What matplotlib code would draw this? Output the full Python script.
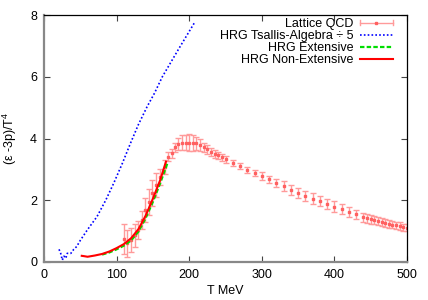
import matplotlib
matplotlib.use("Agg")
import matplotlib.pyplot as plt
from matplotlib.lines import Line2D
from matplotlib.legend_handler import HandlerBase
import numpy as np

plt.rcParams['font.family'] = ['Liberation Sans', 'DejaVu Sans']
plt.rcParams['mathtext.fontset'] = 'custom'
plt.rcParams['mathtext.rm'] = 'Liberation Sans'

# Lattice QCD data
lat_T = [110, 115, 120, 125, 130, 135, 139, 144, 149, 154, 160, 166, 171, 176, 180, 185, 190, 195,
         200, 205, 210, 215, 220, 225, 230, 235, 240, 245, 250, 260, 270, 280, 290, 300, 310, 320,
         330, 340, 350, 360, 370, 380, 390, 400, 410, 420, 430, 440, 445, 450, 455, 460, 465, 470,
         475, 480, 485, 490, 495, 500]
lat_v = [0.74, 0.60, 0.71, 0.87, 1.04, 1.36, 1.68, 1.95, 2.22, 2.49, 2.76, 3.08, 3.41, 3.52, 3.71,
         3.82, 3.86, 3.87, 3.87, 3.86, 3.84, 3.79, 3.71, 3.65, 3.57, 3.50, 3.45, 3.39, 3.32, 3.21,
         3.10, 2.98, 2.89, 2.78, 2.68, 2.57, 2.46, 2.33, 2.24, 2.14, 2.05, 1.97, 1.88, 1.79, 1.71,
         1.63, 1.54, 1.45, 1.41, 1.38, 1.36, 1.33, 1.29, 1.26, 1.24, 1.21, 1.19, 1.16, 1.13, 1.11]
lat_err = [0.48, 0.45, 0.40, 0.37, 0.30, 0.30, 0.40, 0.42, 0.42, 0.39, 0.25, 0.22, 0.15, 0.15, 0.15,
           0.20, 0.24, 0.25, 0.26, 0.25, 0.22, 0.18, 0.15, 0.14, 0.13, 0.12, 0.12, 0.12, 0.10, 0.10,
           0.10, 0.10, 0.10, 0.12, 0.12, 0.13, 0.15, 0.16, 0.17, 0.17, 0.17, 0.17, 0.17, 0.17, 0.16,
           0.16, 0.16, 0.15, 0.15, 0.14, 0.14, 0.14, 0.13, 0.13, 0.13, 0.12, 0.12, 0.12, 0.11, 0.11]

# HRG Tsallis-Algebra / 5
ts_T = [20.7, 23, 25.2, 27.5, 30, 32, 37, 41, 45, 50, 60, 73, 85, 96, 108, 119, 130, 142, 152,
        163, 175, 186, 197, 208]
ts_v = [0.41, 0.28, 0.06, 0.19, 0.12, 0.28, 0.28, 0.41, 0.50, 0.70, 1.05, 1.47, 2.00, 2.55, 3.20,
        3.84, 4.45, 5.03, 5.46, 6.00, 6.48, 6.92, 7.35, 7.78]

# HRG Extensive
ext_T = [80, 90, 100, 110, 120, 130, 140, 150, 160, 170]
ext_v = [0.24, 0.31, 0.41, 0.53, 0.70, 0.98, 1.42, 1.95, 2.55, 3.20]

# HRG Non-Extensive
nex_T = [52, 55, 60, 65, 70, 80, 90, 100, 110, 120, 130, 140, 150, 160, 168]
nex_v = [0.20, 0.19, 0.17, 0.19, 0.21, 0.26, 0.34, 0.45, 0.58, 0.77, 1.06, 1.50, 2.05, 2.65, 3.25]

LAT_EC = '#ff9a9a'
LAT_MC = '#ff6060'


class HorizErrHandler(HandlerBase):
    def create_artists(self, legend, orig_handle, xdescent, ydescent, width, height, fontsize, trans):
        y = height / 2 - ydescent
        x0, x1 = -xdescent, width - xdescent
        cap = height * 0.3
        arts = [Line2D([x0, x1], [y, y], color=LAT_EC, lw=1.0),
                Line2D([x0, x0], [y - cap, y + cap], color=LAT_EC, lw=1.0),
                Line2D([x1, x1], [y - cap, y + cap], color=LAT_EC, lw=1.0),
                Line2D([(x0 + x1) / 2], [y], marker='s', ms=1.8, color=LAT_MC, ls='none')]
        for a in arts:
            a.set_transform(trans)
        return arts


fig = plt.figure(figsize=(4.28, 3.0), dpi=100)
ax = fig.add_axes([44/428, 1-262/300, (407-44)/428, (262-15)/300])

eb = ax.errorbar(lat_T, lat_v, yerr=lat_err, fmt='s', ms=1.8, color=LAT_MC, ecolor=LAT_EC,
                 elinewidth=1.0, capsize=2.2, capthick=1.0, zorder=2)
l1, = ax.plot(ts_T, ts_v, color='#0000ff', lw=1.2, ls=(0, (1, 1.3)), zorder=3)
l2, = ax.plot(ext_T, ext_v, color='#00dd00', lw=1.6, ls=(0, (2, 1)), zorder=3)
l3, = ax.plot(nex_T, nex_v, color='#ff0000', lw=1.5, zorder=4)

ax.set_xlim(0, 500)
ax.set_ylim(0, 8)
ax.set_xticks([0, 100, 200, 300, 400, 500])
ax.set_yticks([0, 2, 4, 6, 8])
ax.tick_params(direction='in', length=4, width=0.8, labelsize=9, top=True, right=True, pad=5,
               color='#444444')
for s in ['left', 'bottom']:
    ax.spines[s].set_color('#888888')
    ax.spines[s].set_linewidth(1.6)
for s in ['top', 'right']:
    ax.spines[s].set_color('black')
    ax.spines[s].set_linewidth(0.9)

ax.set_xlabel('T MeV', fontsize=9, labelpad=3)
ax.set_ylabel(r'(ε -3p)/T$^4$', fontsize=9, labelpad=8)

proxy = Line2D([], [], color=LAT_EC)
leg = ax.legend([proxy, l1, l2, l3],
                ['Lattice QCD', 'HRG Tsallis-Algebra ÷ 5', 'HRG Extensive', 'HRG Non-Extensive'],
                handler_map={proxy: HorizErrHandler()},
                loc='upper right', bbox_to_anchor=((393 - 44) / 363, (262 - 18) / 247),
                frameon=False, fontsize=9, markerfirst=False, handlelength=2.65,
                handletextpad=0.55, labelspacing=0.0, borderaxespad=0, borderpad=0)
try:
    leg._legend_box._children[1]._children[0].align = 'right'
except Exception:
    pass

fig.savefig('out.png', dpi=100)
